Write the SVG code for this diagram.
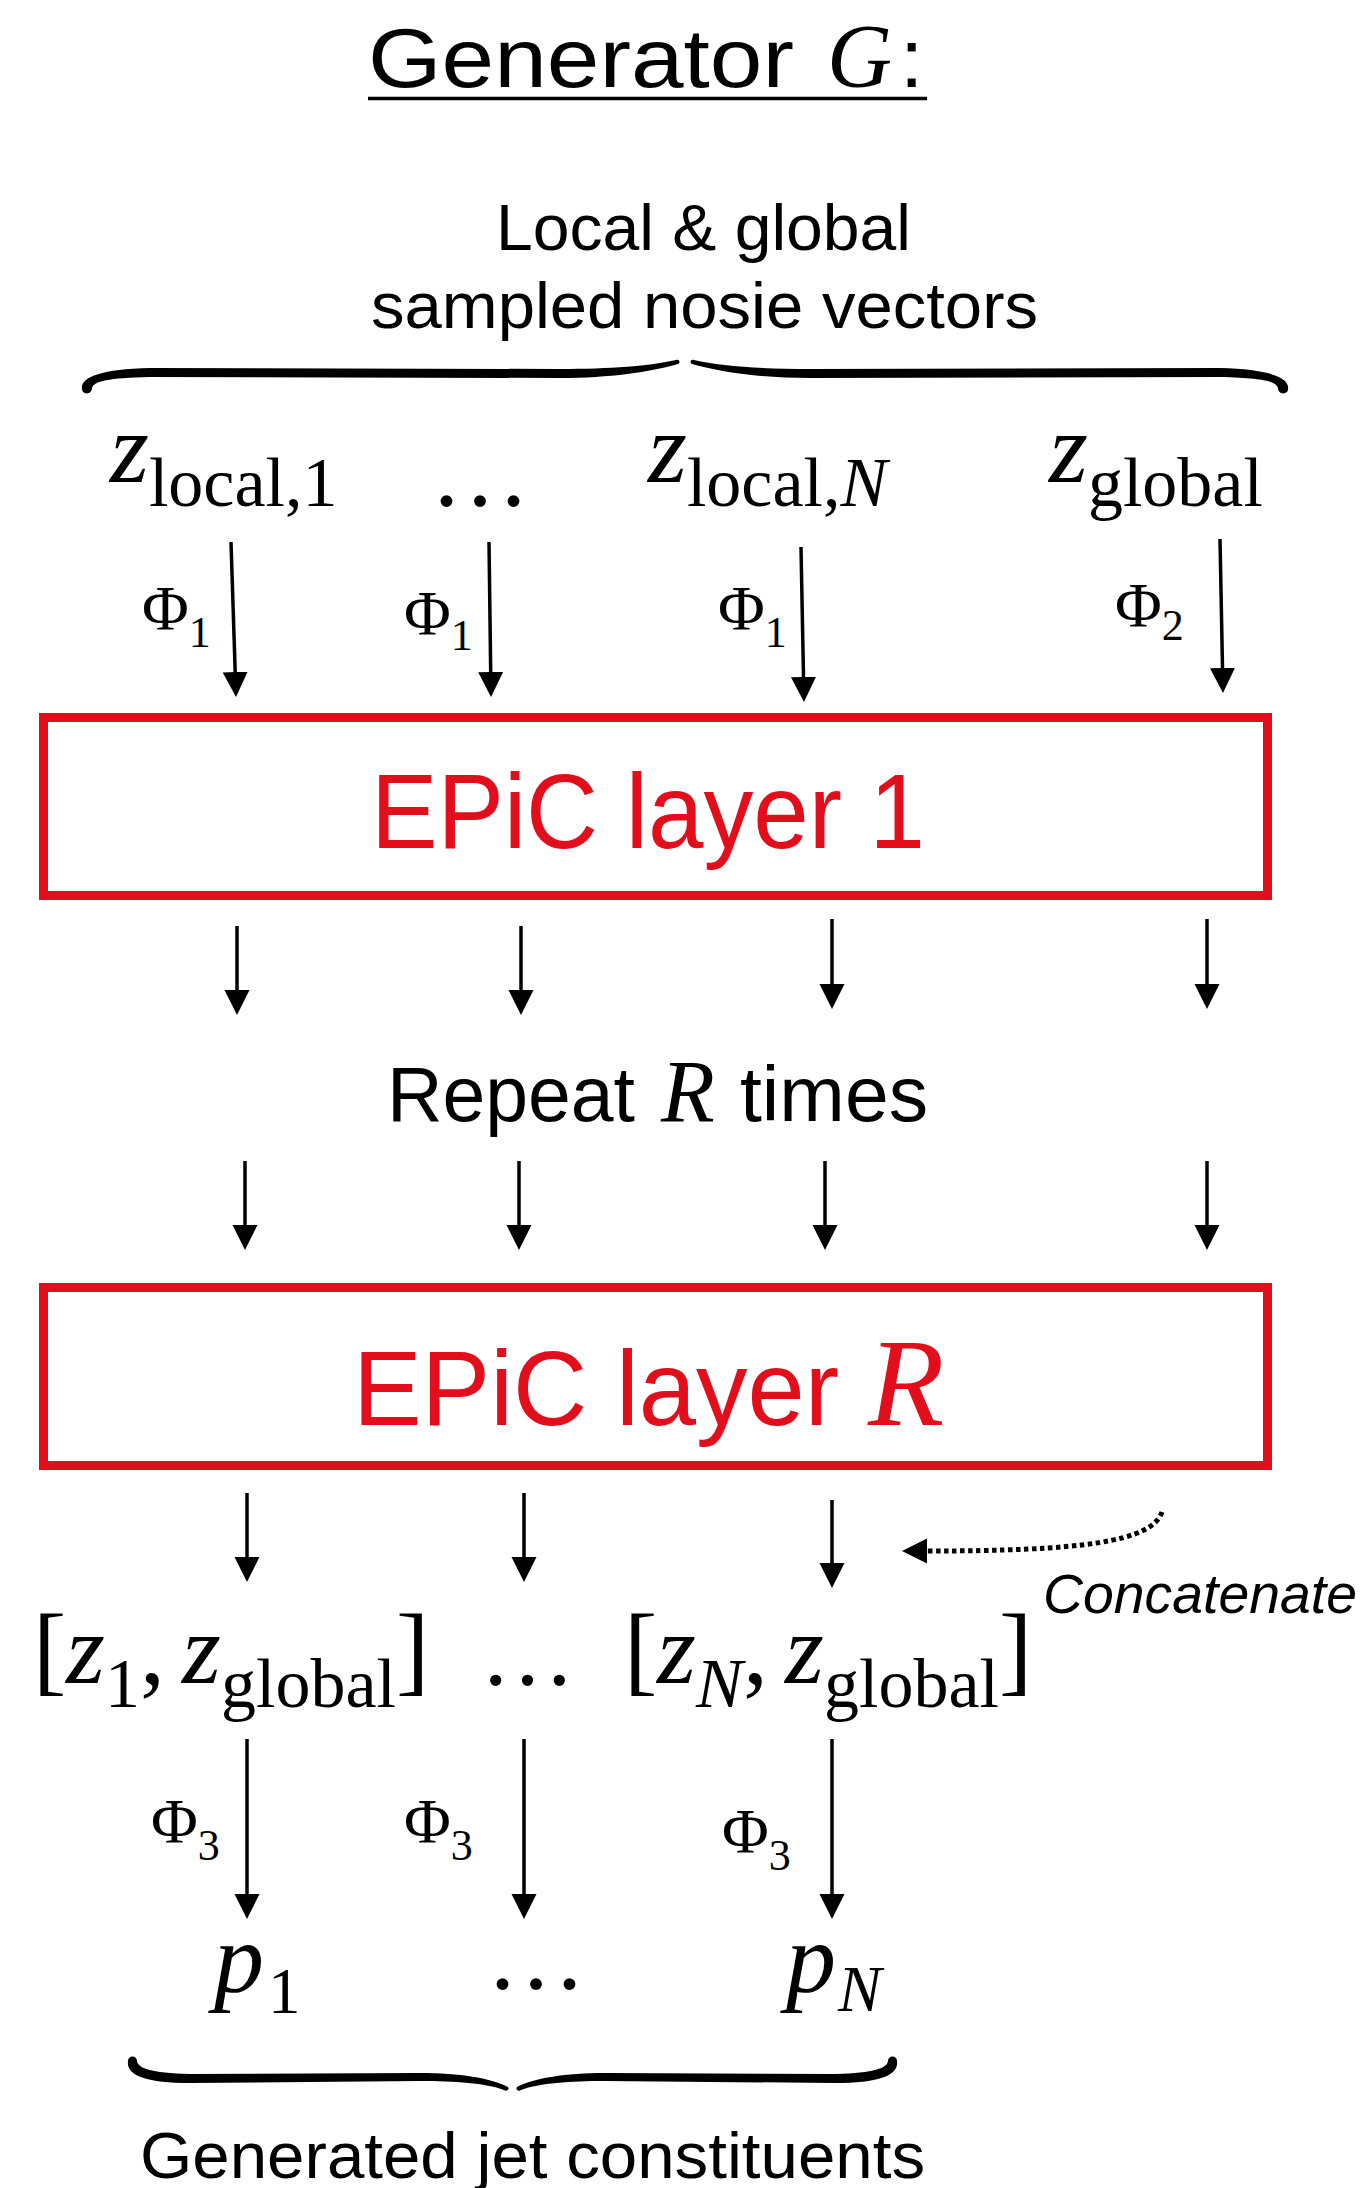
<svg xmlns="http://www.w3.org/2000/svg" width="1368" height="2188" viewBox="0 0 1368 2188">
<style>
.sans{font-family:"Liberation Sans",Arial,sans-serif;fill:#000}
.serif{font-family:"Liberation Serif","Times New Roman",serif;fill:#000}
.it{font-style:italic}
.red{fill:#e20e1b}
.box{fill:none;stroke:#e20e1b;stroke-width:9}
.arr{stroke:#000;stroke-width:3.5;fill:none}
.dot{stroke:#000;stroke-width:5;fill:none;stroke-dasharray:4.5 3.5}
.brace{fill:#000}
</style>
<defs>
<marker id="head" markerUnits="userSpaceOnUse" markerWidth="26" markerHeight="26" viewBox="0 0 26 26" refX="0" refY="12.5" orient="auto">
<path d="M0,0 L25,12.5 L0,25 Z" fill="#000"/>
</marker>
<path id="braceTopL" d="M82 389 C82 395 92 395 92 388 C94 381 108 378 150 377 L560 378 C610 378 650 372 678 364 C681 362 679 359 676 360 C650 366 610 369 560 369 L150 368 C100 369 80 378 82 389 Z"/>
<path id="braceBotL" d="M128 2061 C128 2055 137 2055 137 2061 C138 2068 150 2073 190 2074 L420 2073 C460 2073 490 2078 508 2087 C510 2090 506 2092 504 2090 C485 2083 455 2081 420 2081 L190 2083 C145 2083 126 2075 128 2061 Z"/>
</defs>
<rect width="1368" height="2188" fill="#fff"/>

<g id="title">
<text class="sans" x="368" y="87" font-size="84" textLength="426" lengthAdjust="spacingAndGlyphs">Generator</text>
<text class="serif it" x="827" y="87" font-size="90">G</text>
<text class="sans" x="900" y="87" font-size="84">:</text>
<line x1="368" y1="98.5" x2="927" y2="98.5" stroke="#000" stroke-width="3.5"/>
</g>

<g id="noise-label">
<text class="sans" x="496" y="250" font-size="64" textLength="415" lengthAdjust="spacingAndGlyphs">Local &amp; global</text>
<text class="sans" x="371" y="328" font-size="64" textLength="667" lengthAdjust="spacingAndGlyphs">sampled nosie vectors</text>
</g>

<g id="brace-top" class="brace">
<use href="#braceTopL"/>
<use href="#braceTopL" transform="translate(1370,0) scale(-1,1)"/>
</g>

<g id="z-local-1"><text class="serif" x="110" y="482" font-size="100"><tspan class="it">z</tspan><tspan font-size="70" dy="24">local,1</tspan></text></g>
<g id="dots-top"><text class="serif" x="430" y="506" font-size="100">…</text></g>
<g id="z-local-N"><text class="serif" x="648" y="482" font-size="100"><tspan class="it">z</tspan><tspan font-size="70" dy="24">local,</tspan><tspan font-size="70" class="it">N</tspan></text></g>
<g id="z-global"><text class="serif" x="1049" y="482" font-size="100"><tspan class="it">z</tspan><tspan font-size="70" dy="24">global</tspan></text></g>

<g id="phi-labels">
<text class="serif" x="142" y="630" font-size="64">Φ<tspan font-size="44" dy="17">1</tspan></text>
<text class="serif" x="404" y="635" font-size="64">Φ<tspan font-size="44" dy="15">1</tspan></text>
<text class="serif" x="718" y="630" font-size="64">Φ<tspan font-size="44" dy="17">1</tspan></text>
<text class="serif" x="1115" y="627" font-size="64">Φ<tspan font-size="44" dy="13">2</tspan></text>
<text class="serif" x="151" y="1843" font-size="64">Φ<tspan font-size="44" dy="17">3</tspan></text>
<text class="serif" x="404" y="1843" font-size="64">Φ<tspan font-size="44" dy="17">3</tspan></text>
<text class="serif" x="722" y="1853" font-size="64">Φ<tspan font-size="44" dy="17">3</tspan></text>
</g>

<g id="epic-layer-1">
<rect class="box" x="43.5" y="717.5" width="1224" height="178"/>
<text class="sans red" x="371" y="848" font-size="106" textLength="554" lengthAdjust="spacingAndGlyphs">EPiC layer 1</text>
</g>

<g id="repeat">
<text class="sans" x="387" y="1121" font-size="78" textLength="248" lengthAdjust="spacingAndGlyphs">Repeat</text>
<text class="serif it" x="661" y="1121" font-size="88">R</text>
<text class="sans" x="740" y="1121" font-size="78" textLength="188" lengthAdjust="spacingAndGlyphs">times</text>
</g>

<g id="epic-layer-R">
<rect class="box" x="43.5" y="1287.5" width="1224" height="178"/>
<text class="sans red" x="353" y="1425" font-size="106" textLength="486" lengthAdjust="spacingAndGlyphs">EPiC layer</text>
<text class="serif it red" x="868" y="1425" font-size="125">R</text>
</g>

<g id="concat-1">
<text class="serif" y="1683" font-size="100"><tspan x="33">[</tspan><tspan x="66" class="it">z</tspan><tspan x="105" y="1707" font-size="70">1</tspan><tspan x="140" y="1683">,</tspan><tspan x="182" class="it">z</tspan><tspan x="221" y="1707" font-size="70">global</tspan><tspan x="396" y="1683">]</tspan></text>
</g>
<g id="dots-mid"><text class="serif" x="480" y="1685" font-size="95">…</text></g>
<g id="concat-N">
<text class="serif" y="1683" font-size="100"><tspan x="624">[</tspan><tspan x="657" class="it">z</tspan><tspan x="696" y="1707" font-size="70" class="it">N</tspan><tspan x="743" y="1683">,</tspan><tspan x="785" class="it">z</tspan><tspan x="824" y="1707" font-size="70">global</tspan><tspan x="999" y="1683">]</tspan></text>
</g>

<g id="concatenate-label">
<text class="sans it" x="1043" y="1613" font-size="56" textLength="314" lengthAdjust="spacingAndGlyphs">Concatenate</text>
</g>

<g id="p-1"><text class="serif" x="214" y="1992" font-size="100"><tspan class="it">p</tspan><tspan x="268" y="2013" font-size="65">1</tspan></text></g>
<g id="dots-bottom"><text class="serif" x="486" y="1989" font-size="100">…</text></g>
<g id="p-N"><text class="serif" x="786" y="1992" font-size="100"><tspan class="it">p</tspan><tspan x="838" y="2011" font-size="65" class="it">N</tspan></text></g>

<g id="brace-bottom" class="brace">
<use href="#braceBotL"/>
<use href="#braceBotL" transform="translate(1025,0) scale(-1,1)"/>
</g>

<g id="output-label">
<text class="sans" x="140" y="2178" font-size="64" textLength="785" lengthAdjust="spacingAndGlyphs">Generated jet constituents</text>
</g>

<g id="connectors">
<line class="arr" x1="231" y1="542" x2="235.2" y2="672" marker-end="url(#head)"/>
<line class="arr" x1="489" y1="542" x2="490.7" y2="672" marker-end="url(#head)"/>
<line class="arr" x1="801" y1="547" x2="803.5" y2="677" marker-end="url(#head)"/>
<line class="arr" x1="1220" y1="539" x2="1222.5" y2="668" marker-end="url(#head)"/>

<line class="arr" x1="237" y1="926" x2="237" y2="990" marker-end="url(#head)"/>
<line class="arr" x1="521" y1="926" x2="521" y2="990" marker-end="url(#head)"/>
<line class="arr" x1="832" y1="919" x2="832" y2="984" marker-end="url(#head)"/>
<line class="arr" x1="1207" y1="919" x2="1207" y2="984" marker-end="url(#head)"/>

<line class="arr" x1="245" y1="1161" x2="245" y2="1225" marker-end="url(#head)"/>
<line class="arr" x1="519" y1="1161" x2="519" y2="1225" marker-end="url(#head)"/>
<line class="arr" x1="825" y1="1161" x2="825" y2="1225" marker-end="url(#head)"/>
<line class="arr" x1="1207" y1="1161" x2="1207" y2="1225" marker-end="url(#head)"/>

<line class="arr" x1="247" y1="1493" x2="247" y2="1557" marker-end="url(#head)"/>
<line class="arr" x1="524" y1="1493" x2="524" y2="1557" marker-end="url(#head)"/>
<line class="arr" x1="832" y1="1500" x2="832" y2="1563" marker-end="url(#head)"/>

<path class="dot" d="M1162 1512 C1152 1542 1080 1551 927 1551" marker-end="url(#head)"/>

<line class="arr" x1="247" y1="1739" x2="247" y2="1894" marker-end="url(#head)"/>
<line class="arr" x1="524" y1="1739" x2="524" y2="1894" marker-end="url(#head)"/>
<line class="arr" x1="832" y1="1739" x2="832" y2="1894" marker-end="url(#head)"/>
</g>
</svg>
